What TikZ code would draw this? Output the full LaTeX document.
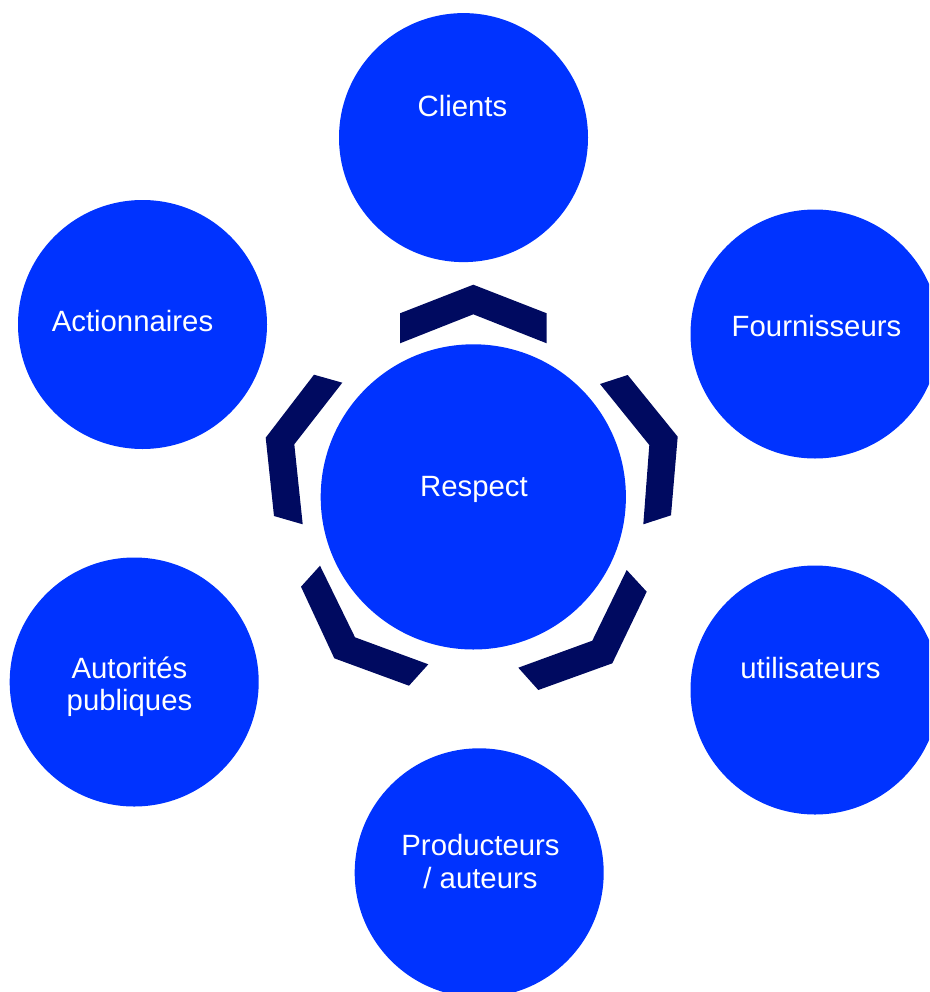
\documentclass[tikz,border=0pt]{standalone}
\usepackage{fontspec}
\setmainfont{Liberation Sans}
\definecolor{ballblue}{RGB}{0,51,255}
\definecolor{chevnavy}{RGB}{0,10,96}
\begin{document}
\begin{tikzpicture}[x=0.75pt,y=-0.75pt,
  ball/.style={circle,fill=ballblue,draw=none,inner sep=0pt,minimum size=186.75pt},
  bigball/.style={circle,fill=ballblue,draw=none,inner sep=0pt,minimum size=228.9pt},
  lbl/.style={text=white,inner sep=0pt,anchor=base,font=\fontsize{22}{24}\selectfont},
  chev/.style={fill=chevnavy,draw=none}]
\useasboundingbox (0,0) rectangle (929,992);
\clip (0,0) rectangle (929,992);
% circles
\node[ball] (clients) at (463.5,137.6) {};
\node[ball] (fourn) at (815,334) {};
\node[ball] (action) at (142.5,324.5) {};
\node[bigball] (respect) at (473.3,496.9) {};
\node[ball] (autor) at (134.2,682) {};
\node[ball] (util) at (815,690) {};
\node[ball] (prod) at (479.2,872.8) {};
% labels
\node[lbl] (tclients) at (462.5,116.5) {Clients};
\node[lbl] (tfourn) at (816.5,336) {Fournisseurs};
\node[lbl] (taction) at (132.5,331) {Actionnaires};
\node[lbl] (trespect) at (474,496.7) {Respect};
\node[lbl] (tautorA) at (129.5,678.3) {Autorités};
\node[lbl] (tautorB) at (129.5,710) {publiques};
\node[lbl] (tutil) at (810.5,678) {utilisateurs};
\node[lbl] (tprodA) at (480.5,855) {Producteurs};
\node[lbl] (tprodB) at (480.5,888.3) {/ auteurs};
% chevrons
\fill[chev] (473.3,284.7) -- (546.7,313.3) -- (546.7,343.3) -- (473.3,314.3) -- (400,343.3) -- (400,313.3) -- cycle;
\fill[chev] (265.7,437.7) -- (314,374.7) -- (342.3,382.7) -- (294.3,444.3) -- (302.7,524.3) -- (274,516) -- cycle;
\fill[chev] (600,384) -- (627.7,375) -- (677.7,436.7) -- (671,515.3) -- (643.3,524.3) -- (649.3,445) -- cycle;
\fill[chev] (301,586.7) -- (320,565.7) -- (355,637.3) -- (428.3,664.3) -- (409,685.7) -- (334.3,658.3) -- cycle;
\fill[chev] (626.7,570) -- (646.7,591.7) -- (612.3,663.3) -- (538.3,690) -- (518.3,667.7) -- (592.3,640.7) -- cycle;
\end{tikzpicture}
\end{document}
